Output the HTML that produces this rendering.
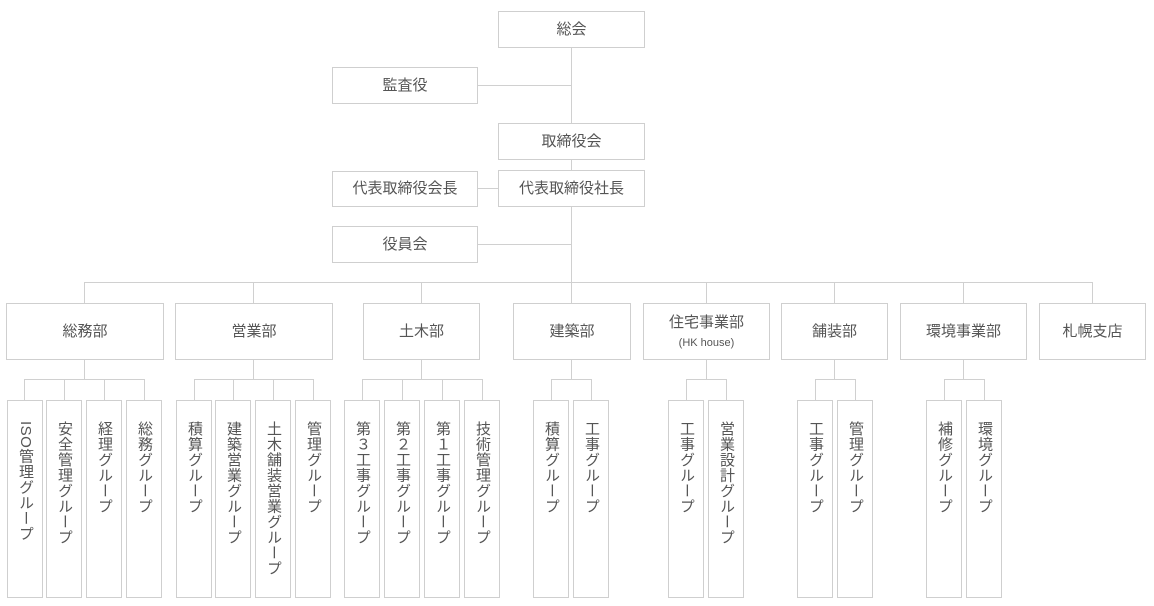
<!DOCTYPE html>
<html><head><meta charset="utf-8"><style>
html,body{margin:0;padding:0;background:#fff;}
body{width:1154px;height:606px;position:relative;overflow:hidden;font-family:"Liberation Sans","Noto Sans CJK JP",sans-serif;color:#555;}
.b{position:absolute;box-sizing:border-box;border:1px solid #cfcfcf;background:#fff;display:flex;align-items:center;justify-content:center;font-size:15px;text-align:center;line-height:1.3;}
.v{position:absolute;box-sizing:border-box;border:1px solid #cfcfcf;background:#fff;top:400px;height:198px;width:36px;writing-mode:vertical-rl;font-size:15px;padding-top:20px;display:flex;align-items:center;justify-content:flex-start;line-height:34px;letter-spacing:0.5px;}
.s{font-size:11px;display:block;}
svg{position:absolute;left:0;top:0;}
</style></head><body>
<svg width="1154" height="606" stroke="#d0d0d0" stroke-width="1" fill="none">
<path d="M571.5 47V303 M478 85.5H571.5 M478 188.5H498 M478 244.5H571.5"/>
<path d="M84.5 282.5H1092.5 M84.5 282V303 M253.5 282V303 M421.5 282V303 M571.5 282V303 M706.5 282V303 M834.5 282V303 M963.5 282V303 M1092.5 282V303"/>
<path d="M84.5 359V379 M24.5 379.5H144.5 M24.5 379V400 M64.5 379V400 M104.5 379V400 M144.5 379V400"/>
<path d="M253.5 359V379 M194.5 379.5H313.5 M194.5 379V400 M233.5 379V400 M273.5 379V400 M313.5 379V400"/>
<path d="M421.5 359V379 M362.5 379.5H482.5 M362.5 379V400 M402.5 379V400 M442.5 379V400 M482.5 379V400"/>
<path d="M571.5 359V379 M551.5 379.5H591.5 M551.5 379V400 M591.5 379V400"/>
<path d="M706.5 359V379 M686.5 379.5H726.5 M686.5 379V400 M726.5 379V400"/>
<path d="M834.5 359V379 M815.5 379.5H855.5 M815.5 379V400 M855.5 379V400"/>
<path d="M963.5 359V379 M944.5 379.5H984.5 M944.5 379V400 M984.5 379V400"/>
</svg>
<div class="b" style="left:498px;top:11px;width:147px;height:37px">総会</div>
<div class="b" style="left:332px;top:67px;width:146px;height:37px">監査役</div>
<div class="b" style="left:498px;top:123px;width:147px;height:37px">取締役会</div>
<div class="b" style="left:332px;top:171px;width:146px;height:36px">代表取締役会長</div>
<div class="b" style="left:498px;top:170px;width:147px;height:37px">代表取締役社長</div>
<div class="b" style="left:332px;top:226px;width:146px;height:37px">役員会</div>

<div class="b" style="left:6px;top:303px;width:158px;height:57px">総務部</div>
<div class="b" style="left:175px;top:303px;width:158px;height:57px">営業部</div>
<div class="b" style="left:363px;top:303px;width:117px;height:57px">土木部</div>
<div class="b" style="left:513px;top:303px;width:118px;height:57px">建築部</div>
<div class="b" style="left:643px;top:303px;width:127px;height:57px"><div>住宅事業部<span class="s" style="margin-top:4px">(HK house)</span></div></div>
<div class="b" style="left:781px;top:303px;width:107px;height:57px">舗装部</div>
<div class="b" style="left:900px;top:303px;width:127px;height:57px">環境事業部</div>
<div class="b" style="left:1039px;top:303px;width:107px;height:57px">札幌支店</div>

<div class="v" style="left:7px">ISO管理グループ</div>
<div class="v" style="left:46px">安全管理グループ</div>
<div class="v" style="left:86px">経理グループ</div>
<div class="v" style="left:126px">総務グループ</div>
<div class="v" style="left:176px">積算グループ</div>
<div class="v" style="left:215px">建築営業グループ</div>
<div class="v" style="left:255px">土木舗装営業グループ</div>
<div class="v" style="left:295px">管理グループ</div>
<div class="v" style="left:344px">第３工事グループ</div>
<div class="v" style="left:384px">第２工事グループ</div>
<div class="v" style="left:424px">第１工事グループ</div>
<div class="v" style="left:464px">技術管理グループ</div>
<div class="v" style="left:533px">積算グループ</div>
<div class="v" style="left:573px">工事グループ</div>
<div class="v" style="left:668px">工事グループ</div>
<div class="v" style="left:708px">営業設計グループ</div>
<div class="v" style="left:797px">工事グループ</div>
<div class="v" style="left:837px">管理グループ</div>
<div class="v" style="left:926px">補修グループ</div>
<div class="v" style="left:966px">環境グループ</div>
</body></html>
